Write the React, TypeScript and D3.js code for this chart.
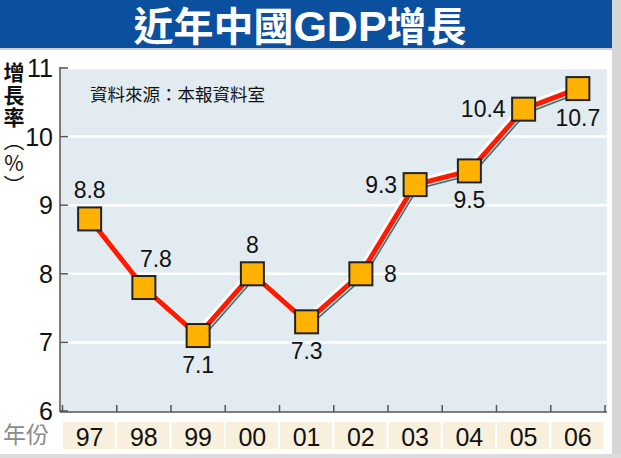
import React from "react";
import * as d3 from "d3";

const years = ["97", "98", "99", "00", "01", "02", "03", "04", "05", "06"];
const growth = [8.8, 7.8, 7.1, 8, 7.3, 8, 9.3, 9.5, 10.4, 10.7];
const yTicks = [6, 7, 8, 9, 10, 11];
const labelPos = ["above", "aboveR", "below", "above", "below", "right", "left", "below", "left", "below"];
const titleCJK1 = "近年中國";
const titleLatin = "GDP";
const titleCJK2 = "增長";
const source = "資料來源：本報資料室";
const yLabelMain = "增長率";
const yLabelUnit = "（%）";
const xTitle = "年份";

const W = 621;
const H = 458;
const NUM_FONT = "'Liberation Sans', Arial, sans-serif";
const CJK_FONT = "'Noto Sans CJK TC', 'Noto Sans CJK SC', sans-serif";

export default function App() {
  const x = d3.scaleBand<string>().domain(years).range([62.5, 605]).padding(0);
  const y = d3.scaleLinear().domain([6, 11]).range([411, 68]);
  const cx = (i: number) => (x(years[i]) as number) + x.bandwidth() / 2;
  const pts: [number, number][] = growth.map((v, i) => [cx(i), y(v)]);
  const line = d3.line<[number, number]>().x((d) => d[0]).y((d) => d[1]);
  const shifted = (dx: number, dy: number) => line(pts.map((p) => [p[0] + dx, p[1] + dy] as [number, number])) || "";
  const plotLeft = 60;
  const plotRight = 607;
  const plotTop = y(11);
  const plotBottom = 412;

  const labelXY = (i: number) => {
    const [px, py] = pts[i];
    const pos = labelPos[i];
    if (pos === "above") return { x: px, y: py - 21, anchor: "middle" };
    if (pos === "aboveR") return { x: px + 12, y: py - 21, anchor: "middle" };
    if (pos === "below") return { x: px, y: py + 37, anchor: "middle" };
    if (pos === "right") return { x: px + 23, y: py + 8, anchor: "start" };
    return { x: px - 18, y: py + 8, anchor: "end" };
  };

  return (
    <svg width={W} height={H} style={{ position: "absolute", left: 0, top: 0 }}>
      <rect x={0} y={0} width={W} height={H} fill="#ffffff" />
      {/* frame */}
      <rect x={612} y={0} width={9} height={H} fill="#d6d6d6" />
      <rect x={0} y={454} width={W} height={4} fill="#dcdcdc" />
      <rect x={0} y={0} width={612} height={48} fill="#0b4f9f" />
      <rect x={0} y={48} width={612} height={2} fill="#d0d0d0" />
      <text x={300} y={41} textAnchor="middle" fill="#ffffff" fontFamily={CJK_FONT} fontWeight="bold" fontSize={40}>
        {titleCJK1}
        <tspan fontFamily={NUM_FONT} fontSize={43}>{titleLatin}</tspan>
        {titleCJK2}
      </text>

      {/* plot background */}
      <rect x={plotLeft} y={plotTop} width={plotRight - plotLeft} height={plotBottom - plotTop} fill="#e1ebf0" />
      {yTicks.slice(1).map((t) => (
        <line key={t} x1={plotLeft} x2={plotRight} y1={y(t)} y2={y(t)} stroke="#ffffff" strokeWidth={2.5} />
      ))}
      {/* axes */}
      <line x1={plotLeft} x2={plotLeft} y1={plotTop - 1} y2={plotBottom} stroke="#555" strokeWidth={1.5} />
      <line x1={plotLeft} x2={plotRight} y1={plotBottom} y2={plotBottom} stroke="#555" strokeWidth={1.5} />
      {yTicks.map((t) => (
        <g key={t}>
          <line x1={plotLeft} x2={plotLeft + 8} y1={y(t)} y2={y(t)} stroke="#555" strokeWidth={1.5} />
          <text x={53} y={y(t) + 9} textAnchor="end" fontFamily={NUM_FONT} fontSize={25} fill="#111">
            {t}
          </text>
        </g>
      ))}
      {years.map((yr) => (
        <line key={yr} x1={(x(yr) as number) + x.bandwidth()} x2={(x(yr) as number) + x.bandwidth()} y1={plotBottom} y2={plotBottom - 7} stroke="#555" strokeWidth={1.5} />
      ))}
      <line x1={x(years[0]) as number} x2={x(years[0]) as number} y1={plotBottom} y2={plotBottom - 7} stroke="#555" strokeWidth={1.5} />

      {/* x category cells */}
      {years.map((yr) => (
        <g key={yr}>
          <rect x={(x(yr) as number) + 0.5} y={422} width={x.bandwidth() - 2} height={27} fill="#f8f0dd" />
          <text x={(x(yr) as number) + x.bandwidth() / 2} y={446} textAnchor="middle" fontFamily={NUM_FONT} fontSize={25} fill="#111">
            {yr}
          </text>
        </g>
      ))}
      <text x={3} y={443} fontFamily={CJK_FONT} fontSize={23} fill="#8a8a8a">
        {xTitle}
      </text>

      {/* y label, vertical */}
      <text
        x={14}
        y={62}
        style={{ writingMode: "vertical-rl", textOrientation: "upright" } as React.CSSProperties}
        fontFamily={CJK_FONT}
        fontSize={21}
        letterSpacing={1.5}
        fill="#111"
      >
        <tspan fontWeight="bold">{yLabelMain}</tspan>
        <tspan>{yLabelUnit}</tspan>
      </text>

      <text x={90} y={101} fontFamily={CJK_FONT} fontSize={17.5} fill="#111">
        {source}
      </text>

      {/* lines */}
      <path d={shifted(2.5, 4)} fill="none" stroke="#3f6f74" strokeWidth={1.6} />
      <path d={shifted(-1.5, -2)} fill="none" stroke="#ffffff" strokeWidth={6} />
      <path d={shifted(0, 0)} fill="none" stroke="#ff1a00" strokeWidth={5} />

      {/* markers */}
      {pts.map((p, i) => (
        <rect key={i} x={p[0] - 11.5} y={p[1] - 11.5} width={23} height={23} fill="#ffb300" stroke="#222" strokeWidth={2} />
      ))}

      {/* data labels */}
      {growth.map((v, i) => {
        const l = labelXY(i);
        return (
          <text key={i} x={l.x} y={l.y} textAnchor={l.anchor} fontFamily={NUM_FONT} fontSize={23} fill="#111">
            {v}
          </text>
        );
      })}
    </svg>
  );
}
